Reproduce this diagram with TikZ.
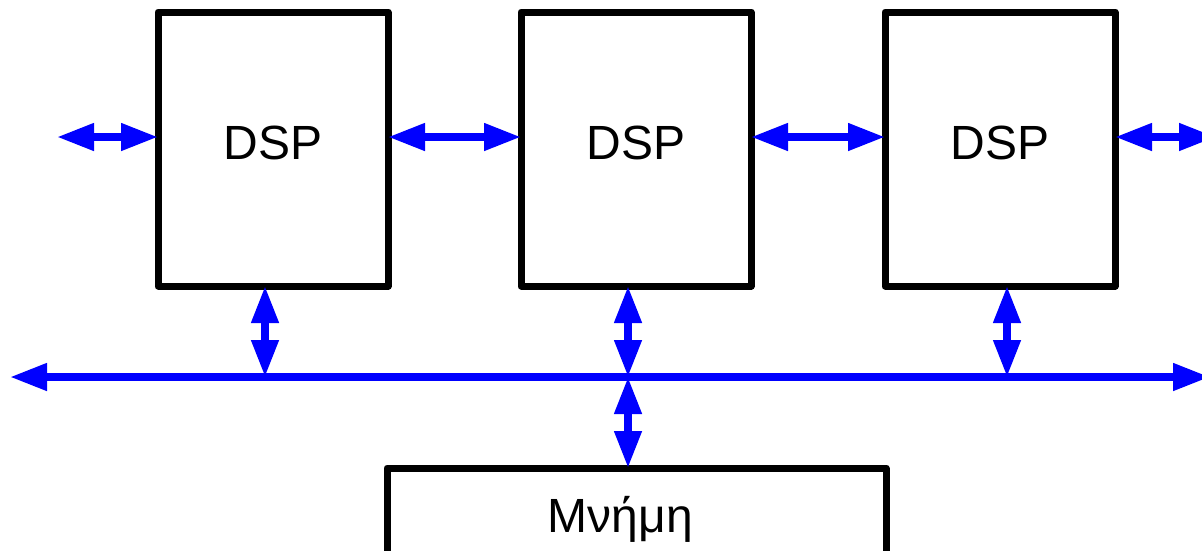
\documentclass[tikz,border=0pt]{standalone}
\usepackage{fontspec}
\setmainfont{Liberation Sans}
\usetikzlibrary{arrows.meta}
\definecolor{busblue}{RGB}{0,0,255}
\tikzset{
  box/.style={draw=black, line width=7pt, line join=round, outer sep=0pt, inner sep=0pt,
              font=\fontsize{48}{58}\selectfont},
  dspbox/.style={box, minimum width=230pt, minimum height=274pt, text depth=13pt},
  biarrow/.style={draw=busblue, line width=7.5pt,
                  {Triangle[length=37pt,width=26pt]}-{Triangle[length=37pt,width=26pt]}},
}
\begin{document}
\begin{tikzpicture}[x=1pt,y=-1pt]
\path[use as bounding box] (0,0) rectangle (1202,550);
\clip (0,0) rectangle (1202,550);
% boxes
\node[dspbox] (d1) at (273,149) {DSP};
\node[dspbox] (d2) at (636,149) {DSP};
\node[dspbox] (d3) at (1000,149) {DSP};
\node[box, minimum width=499pt, minimum height=105pt, text height=34pt, text depth=10pt] (mem) at (636.5,520.5) {\hspace*{-32pt}Μνήμη};
% helper coordinates
\coordinate (h) at (0,137);
\coordinate (l0) at (57,137);
\coordinate (r0) at (1216,137);
\coordinate (busL) at (10,377);
\coordinate (busR) at (1210,377);
\coordinate (j1) at (265,377);
\coordinate (j2) at (628,377);
\coordinate (j3) at (1007,377);
% horizontal links
\draw[biarrow] (l0) -- (d1.west |- h);
\draw[biarrow] (d1.east |- h) -- (d2.west |- h);
\draw[biarrow] (d2.east |- h) -- (d3.west |- h);
\draw[biarrow] (d3.east |- h) -- (r0);
% bus
\draw[biarrow] (busL) -- (busR);
% vertical links
\draw[biarrow] (d1.south -| j1) -- (j1);
\draw[biarrow] (d2.south -| j2) -- (j2);
\draw[biarrow] (d3.south -| j3) -- (j3);
\draw[biarrow] (j2) -- (mem.north -| j2);
\end{tikzpicture}
\end{document}
